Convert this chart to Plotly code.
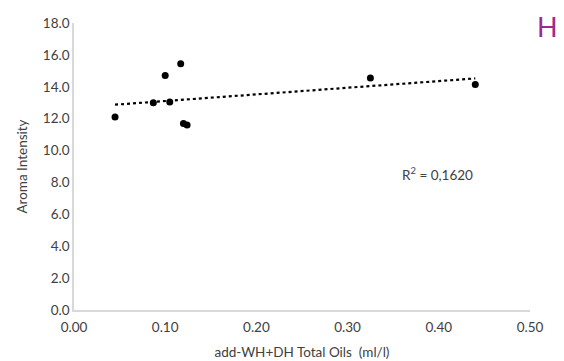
import numpy as np
import plotly.graph_objects as go

oils = [0.045, 0.087, 0.100, 0.105, 0.117, 0.120, 0.124, 0.325, 0.440]
aroma = [12.1, 13.0, 14.7, 13.05, 15.45, 11.7, 11.6, 14.55, 14.15]
x_ticks = [0.0, 0.1, 0.2, 0.3, 0.4, 0.5]
y_ticks = [0, 2, 4, 6, 8, 10, 12, 14, 16, 18]
r2_label = "R<sup>2</sup> = 0,1620"
panel_label = "H"
x_title = "add-WH+DH Total Oils&nbsp; (ml/l)"
y_title = "Aroma Intensity"

slope, intercept = np.polyfit(oils, aroma, 1)
tx = [min(oils), max(oils)]
ty = [slope * v + intercept for v in tx]

font = "Lato, Carlito, Calibri, sans-serif"
# page body has an 8px margin, so the figure is drawn 8px smaller and shifted
OFF = 8
W, H = 564 - OFF, 361 - OFF
L, R, T, B = 74 - OFF, 34, 23 - OFF, 51
fig = go.Figure()
fig.add_trace(go.Scatter(x=tx, y=ty, mode="lines",
                         line=dict(color="black", width=2.2, dash="dot"),
                         hoverinfo="skip"))
fig.add_trace(go.Scatter(x=oils, y=aroma, mode="markers",
                         marker=dict(color="black", size=7)))

fig.update_layout(
    width=W, height=H,
    margin=dict(l=L, r=R, t=T, b=B, autoexpand=False),
    paper_bgcolor="white", plot_bgcolor="white",
    showlegend=False,
    font=dict(family=font, size=13.5, color="#404040"),
    xaxis=dict(range=[0, 0.5], tickvals=x_ticks, tickformat=".2f",
               showgrid=False, zeroline=False, showline=True, automargin=False,
               linecolor="#d9d9d9", linewidth=1.5, ticks="", ticklabelstandoff=4,
               title=dict(text=x_title, standoff=14,
                          font=dict(size=13.5, color="#404040")),
               tickfont=dict(size=13.5, color="#404040")),
    yaxis=dict(range=[0, 18], tickvals=y_ticks, tickformat=".1f",
               showgrid=False, zeroline=False, showline=True, automargin=False,
               linecolor="#d9d9d9", linewidth=1.5, ticks="",
               title=dict(text=y_title, standoff=12,
                          font=dict(size=13.5, color="#404040")),
               tickfont=dict(size=13.5, color="#404040")),
    annotations=[
        dict(x=0.44, y=8.5, xref="x", yref="y", text=r2_label,
             showarrow=False, xanchor="right", yanchor="middle",
             font=dict(size=13.5, color="#404040")),
        dict(x=(547 - 74) / (564 - 74 - 34), y=(361 - 51 - 26) / (361 - 23 - 51),
             xref="paper", yref="paper", text=panel_label,
             showarrow=False, xanchor="center", yanchor="middle",
             font=dict(size=27, color="#9b2c8e")),
    ],
)
fig.write_html("out.html")
